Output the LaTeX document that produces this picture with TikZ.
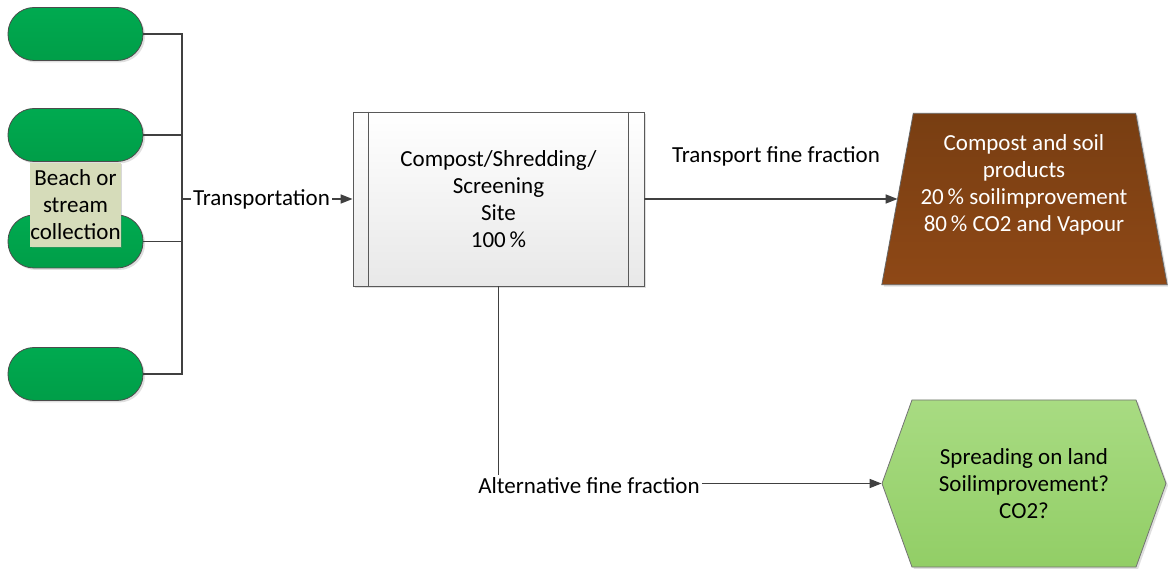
\documentclass[tikz,border=0pt]{standalone}
\usepackage{fontspec}
\setmainfont{Carlito}
\usetikzlibrary{arrows.meta,shapes.symbols,shadows,calc}

\definecolor{linegray}{RGB}{64,64,64}
\definecolor{pillgreen}{RGB}{0,170,80}
\definecolor{pillgreendark}{RGB}{0,158,72}
\definecolor{labelolive}{RGB}{214,220,186}
\definecolor{sitegray}{RGB}{232,232,232}
\definecolor{browntop}{RGB}{120,62,18}
\definecolor{brownbot}{RGB}{142,72,22}
\definecolor{hextop}{RGB}{168,219,130}
\definecolor{hexbot}{RGB}{146,206,102}

\tikzset{
  conn/.style={draw=linegray, line width=1.6pt},
  arr/.style={conn, -{Triangle[length=12pt,width=9pt]}},
  txt/.style={font=\fontsize{23}{27}\selectfont, align=center, inner sep=2pt},
  softshadow/.style={drop shadow={shadow xshift=2pt, shadow yshift=-2pt, opacity=0.25, fill=gray}},
  pill/.style={draw=black!70, line width=0.8pt, top color=pillgreen, bottom color=pillgreendark,
    rounded corners=26pt, minimum width=135pt, minimum height=53pt, inner sep=0pt, softshadow},
  sourcelabel/.style={txt, fill=labelolive, minimum width=89pt, minimum height=84pt, inner sep=0pt,
    drop shadow={shadow xshift=1.5pt, shadow yshift=-1.5pt, opacity=0.3, fill=gray}},
  sitebox/.style={draw=black!65, line width=0.8pt, top color=white, bottom color=sitegray,
    minimum width=291pt, minimum height=174pt, inner sep=0pt, softshadow},
  productframe/.style={minimum width=285pt, minimum height=171pt, inner sep=0pt},
  productfill/.style={draw=black!60, line width=0.8pt, top color=browntop, bottom color=brownbot, softshadow},
  landbox/.style={signal, signal to=west and east, signal pointer angle=140.5,
    draw=black!55, line width=0.8pt, top color=hextop, bottom color=hexbot,
    minimum width=284pt, minimum height=167pt, inner sep=0pt, softshadow},
}

\begin{document}
\begin{tikzpicture}[x=1pt,y=-1pt]
\useasboundingbox[fill=white] (0,0) rectangle (1168,569);

% collection points
\node[pill] (p1) at (75.5,34) {};
\node[pill] (p2) at (75.5,135) {};
\node[pill] (p3) at (75.5,241.5) {};
\node[pill] (p4) at (75.5,374) {};
\node[sourcelabel] (src) at (75.5,205) {Beach or\\stream\\collection};

% processing site with side bars
\node[sitebox] (site) at (498.5,199) {};
\draw[black!65, line width=0.8pt] ([xshift=16pt]site.north west) -- ([xshift=16pt]site.south west);
\draw[black!65, line width=0.8pt] ([xshift=-16pt]site.north east) -- ([xshift=-16pt]site.south east);
\node[txt] (sitetext) at (site.center) {Compost/Shredding/\\Screening\\Site\\100\,\%};

% compost products: trapezoid, narrower at the top
\node[productframe] (prod) at (1024.5,199) {};
\coordinate (prodtl) at ([xshift=31.5pt]prod.north west);
\coordinate (prodtr) at ([xshift=-31.5pt]prod.north east);
\path[productfill] (prod.south west) -- (prodtl) -- (prodtr) -- (prod.south east) -- cycle;
\coordinate (prodin) at ($(prod.south west)!0.5!(prodtl)$);
\node[txt, text=white] (prodtext) at (1024,185) {Compost and soil\\products\\20\,\% soilimprovement\\80\,\% CO2 and Vapour};

% land spreading
\node[landbox] (land) at (1024,483.5) {};
\node[txt] (landtext) at (land.center) {Spreading on land\\Soilimprovement?\\CO2?};

% collection bus
\coordinate (bus) at (182,199);
\foreach \p in {p1,p2,p3,p4} \draw[conn] (\p.east) -| (bus);
\node[txt] (trans) at (261.5,199) {Transportation};
\draw[conn] (bus) -- (trans.west |- bus);
\draw[arr] (trans.east |- site.west) -- (site.west);

% fine fraction routes
\draw[arr] (site.east) -- (prodin);
\node[txt] (tff) at (776,156) {Transport fine fraction};
\node[txt] (alt) at (589,485.5) {Alternative fine fraction};
\draw[conn] (site.south) -- (site.south |- alt.north);
\draw[arr] (alt.east |- land.west) -- (land.west);
\end{tikzpicture}
\end{document}
